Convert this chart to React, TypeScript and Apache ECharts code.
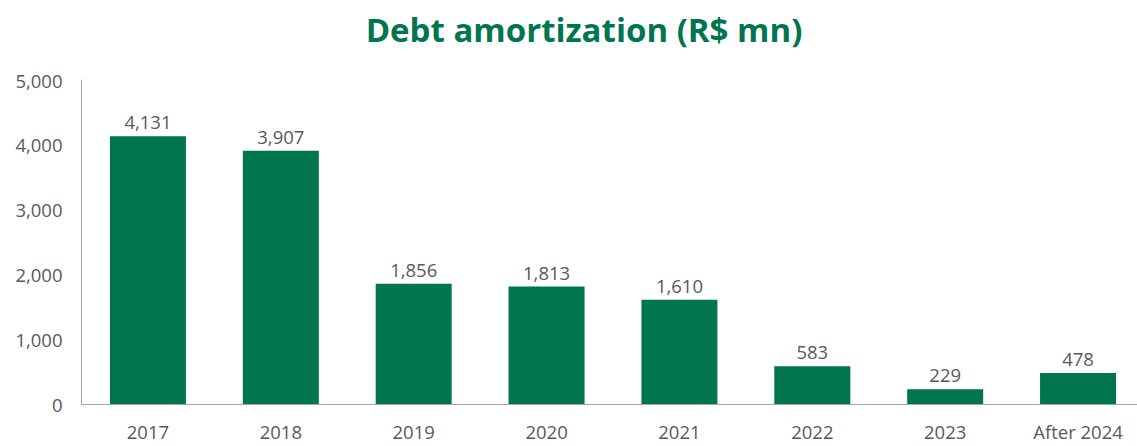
import React, { useEffect, useRef } from "react";
import * as echarts from "echarts";

const categories = ["2017", "2018", "2019", "2020", "2021", "2022", "2023", "After 2024"];
const amortization = [4131, 3907, 1856, 1813, 1610, 583, 229, 478];
const yTicks = { min: 0, max: 5000, interval: 1000 };

const GREEN = "#00754F";
const FONT = "'Open Sans', 'Noto Sans', sans-serif";

export default function App() {
  const ref = useRef<HTMLDivElement>(null);
  useEffect(() => {
    if (!ref.current) return;
    const chart = echarts.init(ref.current, null, { renderer: "svg" });
    chart.setOption({
      animation: false,
      title: {
        text: "Debt amortization (R$ mn)",
        left: 579,
        textAlign: "center",
        top: 8,
        textStyle: { color: GREEN, fontFamily: FONT, fontWeight: "bold", fontSize: 33 },
      },
      grid: { left: 81.5, right: 15.5, top: 80, bottom: 42, containLabel: false },
      xAxis: {
        type: "category",
        data: categories,
        axisLine: { lineStyle: { color: "#A6A6A6", width: 1 } },
        axisTick: { show: false },
        axisLabel: { color: "#595959", fontFamily: FONT, fontSize: 18.5, margin: 18 },
      },
      yAxis: {
        type: "value",
        min: yTicks.min,
        max: yTicks.max,
        interval: yTicks.interval,
        axisLine: { show: true, lineStyle: { color: "#A6A6A6", width: 1 } },
        axisTick: { show: false },
        splitLine: { show: false },
        axisLabel: {
          color: "#595959",
          fontFamily: FONT,
          fontSize: 18.5,
          margin: 19,
          formatter: (v: number) => v.toLocaleString("en-US"),
        },
      },
      series: [
        {
          type: "bar",
          data: amortization,
          barWidth: 76,
          itemStyle: { color: GREEN },
          label: {
            show: true,
            position: "top",
            distance: 5,
            color: "#595959",
            fontFamily: FONT,
            fontSize: 18.5,
            formatter: (p: any) => Number(p.value).toLocaleString("en-US"),
          },
        },
      ],
    });
    return () => chart.dispose();
  }, []);
  return (
    <div
      ref={ref}
      style={{ position: "fixed", left: 0, top: 0, width: 1160, height: 446, background: "#fff" }}
    />
  );
}
